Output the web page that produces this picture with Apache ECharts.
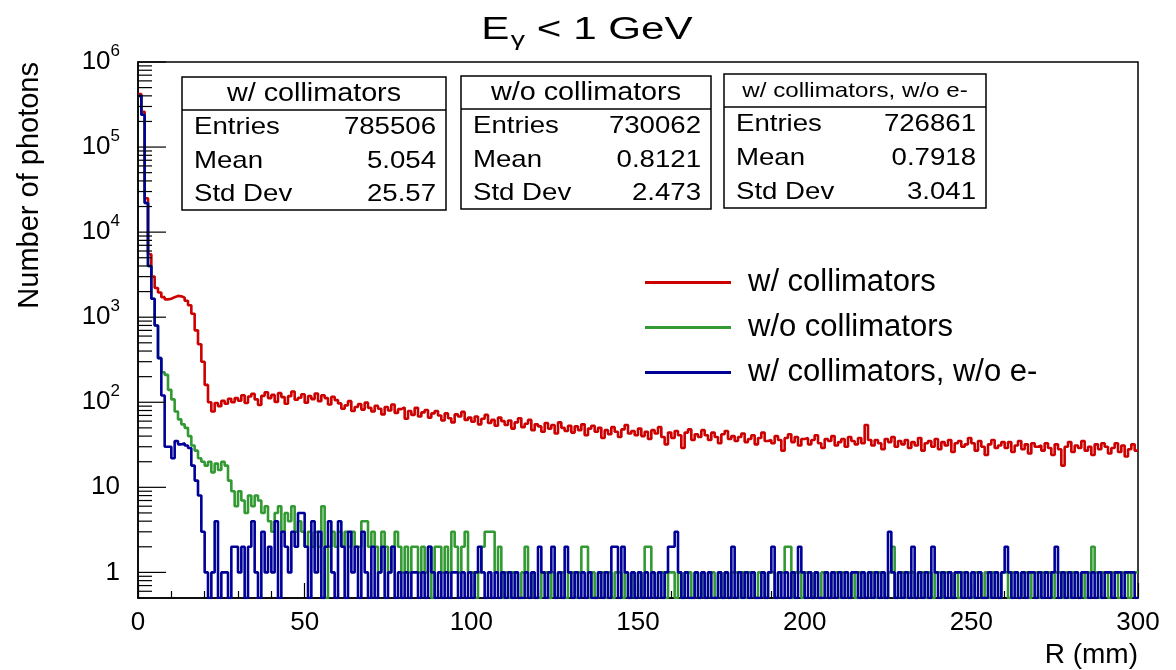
<!DOCTYPE html>
<html>
<head>
<meta charset="utf-8">
<script src="https://cdn.jsdelivr.net/npm/echarts@6.0.0/dist/echarts.min.js"></script>
<style>html,body{margin:0;padding:0;background:#fff}#chart{width:1176px;height:670px}</style>
</head>
<body>
<div id="chart"></div>
<script>
// ---------------- data (1 mm bins, R from 0 to 300 mm; one row = 10 mm) ----------------
const binWidth = 1;
const xRange = [0, 300];
const yRange = [0.5, 1e6];

const seriesNames = ['w/ collimators', 'w/o collimators', 'w/ collimators, w/o e-'];

const withCollimators = [
420000,260000,25000,5500,3000,2200,1950,1720,1620,1650,
1720,1780,1760,1700,1560,1380,1100,700,480,300,
160,100,78,98,90,104,96,110,100,112,
104,121,98,117,126,108,93,119,131,112,
122,101,128,115,96,118,134,107,113,124,
99,118,109,127,103,121,112,94,116,106,
97,84,92,103,79,88,95,82,99,86,
78,91,84,72,88,80,94,75,83,87,
64,79,71,86,68,76,81,66,74,79,
70,61,74,65,58,72,68,77,62,66,
59,68,55,64,71,57,62,53,66,60,
54,61,49,58,65,51,56,62,47,55,
52,45,57,49,54,43,58,50,46,53,
44,52,47,55,41,49,53,45,50,38,
47,42,51,45,39,48,54,43,46,41,
49,40,45,37,47,43,51,39,32,44,
38,46,41,29,44,48,36,42,39,47,
41,36,44,39,33,42,46,37,40,35,
39,43,34,37,41,32,38,44,35,36,
33,40,36,27,38,42,34,39,31,37,
38,32,36,41,33,29,37,35,40,31,
34,37,30,39,35,32,38,33,54,36,
31,36,33,28,37,34,39,30,35,32,
36,29,34,31,38,27,33,35,30,37,
28,34,31,36,26,33,35,30,32,38,
33,27,35,30,24,32,36,29,31,34,
29,34,26,31,35,28,32,25,33,30,
31,27,33,29,24,32,28,18,30,34,
26,31,29,35,27,30,24,32,28,33,
30,25,29,33,26,31,23,28,32,27];

const withoutCollimators = [
400000,240000,22000,4000,1650,800,330,225,210,140,
108,78,63,55,50,40,31,27,22,20,
18,20,15,19,16,20,18,12,9,6,
9,7,5,8,6,8,7,5,6,4,
3,5,6,3,5,4,6,3,4,3,
2,3,2,3,2,6,0,2,3,2,
3,2,3,2,3,2,2,4,4,2,
3,2,1,3,2,1,2,3,2,1,
2,1,2,2,1,2,1,2,0,2,
2,1,2,1,3,2,1,2,3,1,
1,0,1,2,3,3,3,1,2,0,
1,0,1,1,0,1,2,0,1,0,
0,1,1,0,1,0,1,1,0,1,
1,0,1,2,2,0,1,0,1,1,
0,1,0,1,1,0,1,0,1,0,
1,0,2,2,1,0,1,1,0,1,
1,0,1,0,1,1,0,1,0,1,
0,1,1,0,1,0,1,0,1,1,
0,1,0,1,1,0,1,1,0,1,
1,0,1,1,2,2,0,1,1,0,
1,1,0,1,0,1,1,0,1,1,
0,1,1,0,1,0,1,1,0,1,
1,0,1,1,0,1,2,0,1,1,
0,1,1,0,1,1,0,1,0,1,
1,0,1,1,0,1,0,1,1,0,
0,1,1,0,1,0,1,1,0,1,
1,0,1,1,0,1,1,0,1,1,
0,1,1,1,0,1,1,0,1,0,
1,1,0,1,0,1,2,1,0,1,
1,0,1,1,0,1,1,0,1,1];

const withCollimatorsNoElectrons = [
400000,240000,22000,4000,1650,800,330,120,30,30,
22,35,32,33,31,29,18,12,8,3,
1,0,1,4,0,1,1,0,2,2,
1,2,0,2,4,1,0,3,1,2,
1,4,0,3,2,1,3,2,5,5,
2,0,4,1,3,0,2,4,1,0,
4,2,0,3,1,2,0,3,1,0,
2,0,1,2,0,1,2,0,1,0,
1,0,1,1,0,1,0,2,1,0,
1,0,1,0,1,1,0,1,0,1,
0,1,2,1,0,1,0,1,0,1,
0,1,0,1,0,0,1,0,1,0,
2,1,0,1,2,0,1,0,2,1,
0,1,0,1,0,1,0,0,1,0,
1,0,2,2,0,2,1,0,1,0,
1,0,1,0,1,0,1,0,1,2,
2,3,1,0,1,0,0,1,0,1,
0,1,0,0,1,0,1,0,2,0,
1,0,1,0,1,0,0,1,0,1,
2,0,1,0,1,0,1,0,2,1,
0,1,0,1,0,0,1,0,1,0,
1,0,1,0,1,1,0,1,0,1,
0,1,0,1,0,3,1,0,1,0,
1,0,2,0,1,0,1,0,2,1,
0,1,0,1,0,1,1,0,1,0,
1,0,1,0,0,1,0,1,0,1,
2,1,0,1,0,1,0,1,1,0,
1,0,1,0,1,2,0,1,0,1,
0,1,0,1,1,0,1,0,1,0,
1,1,0,1,1,0,1,1,1,0];

const seriesColors = ['#cc0000', '#339933', '#000099'];

// stat box contents
const statEntries = ['785506', '730062', '726861'];
const statMean = ['5.054', '0.8121', '0.7918'];
const statStdDev = ['25.57', '2.473', '3.041'];
const statLabels = ['Entries', 'Mean', 'Std Dev'];

// axis ticks
const xTickInterval = 50;
const yMajorTicks = [1, 10, 100, 1000, 10000, 100000, 1000000];
const yMinorMultipliers = [2, 3, 4, 5, 6, 7, 8, 9];

const titleText = '{e|E}{g|γ}{e| < 1 GeV}';
const xTitle = 'R (mm)';
const yTitle = 'Number of photons';

// ---------------- build ----------------
const FONT = '"Liberation Sans", Arial, Helvetica, sans-serif';

function histSteps(counts) {
  const pts = counts.map((c, i) => [xRange[0] + i * binWidth, c > 0 ? c : yRange[0]]);
  pts.push([xRange[0] + counts.length * binWidth, pts[pts.length - 1][1]]);
  return pts;
}

const yTickData = [];
yMajorTicks.forEach(v => yTickData.push([xRange[0], v, 1]));
for (let k = -1; k <= 5; k++) {
  yMinorMultipliers.forEach(m => {
    const v = m * Math.pow(10, k);
    if (v > yRange[0] && v < yRange[1]) yTickData.push([xRange[0], v, 0]);
  });
}

const allCounts = [withCollimators, withoutCollimators, withCollimatorsNoElectrons];

const series = allCounts.map((counts, i) => ({
  name: seriesNames[i],
  type: 'line',
  step: 'end',
  data: histSteps(counts),
  showSymbol: false,
  symbol: 'none',
  clip: true,
  silent: true,
  sampling: null,
  lineStyle: { color: seriesColors[i], width: 2.6 },
  itemStyle: { color: seriesColors[i] },
  z: 2 + i
}));

series.push({
  type: 'custom',
  coordinateSystem: 'cartesian2d',
  silent: true,
  clip: false,
  z: 10,
  data: yTickData,
  renderItem: function (params, api) {
    const p = api.coord([api.value(0), api.value(1)]);
    const len = api.value(2) ? 28 : 14;
    return {
      type: 'line',
      shape: { x1: p[0], y1: p[1], x2: p[0] + len, y2: p[1] },
      style: { stroke: '#000', lineWidth: 1.2 }
    };
  }
});

function statBox(x, y, w, h, headH, title, titleSize, idx) {
  const els = [];
  els.push({ type: 'rect', shape: { x: x, y: y, width: w, height: h }, style: { fill: '#fff', stroke: '#000', lineWidth: 1.5 }, z: 100 });
  els.push({ type: 'line', shape: { x1: x, y1: y + headH, x2: x + w, y2: y + headH }, style: { stroke: '#000', lineWidth: 1.5 }, z: 101 });
  els.push({ type: 'text', x: x + w / 2, y: y + headH / 2 + 1, scaleX: 1.15, z: 102,
    style: { text: title, fontSize: titleSize, fontFamily: FONT, fill: '#000', align: 'center', verticalAlign: 'middle', textAlign: 'center', textVerticalAlign: 'middle' } });
  const rowH = (h - headH) / 3;
  const vals = [statEntries[idx], statMean[idx], statStdDev[idx]];
  for (let r = 0; r < 3; r++) {
    const cy = y + headH + rowH * (r + 0.5) + 1;
    els.push({ type: 'text', x: x + 12, y: cy, scaleX: 1.15, z: 102,
      style: { text: statLabels[r], fontSize: 24, fontFamily: FONT, fill: '#000', align: 'left', verticalAlign: 'middle', textAlign: 'left', textVerticalAlign: 'middle' } });
    els.push({ type: 'text', x: x + w - 10, y: cy, scaleX: 1.15, z: 102,
      style: { text: vals[r], fontSize: 24, fontFamily: FONT, fill: '#000', align: 'right', verticalAlign: 'middle', textAlign: 'right', textVerticalAlign: 'middle' } });
  }
  return els;
}

const graphic = [].concat(
  statBox(182, 77, 264, 133, 33, seriesNames[0], 25, 0),
  statBox(461, 76, 250, 133, 33, seriesNames[1], 25, 1),
  statBox(724, 74, 262, 134, 33, seriesNames[2], 21, 2),
  [
    { type: 'text', x: 587, y: 15, scaleX: 1.36, z: 102,
      style: { text: titleText, fontFamily: FONT, fill: '#000', align: 'center', verticalAlign: 'top', textAlign: 'center', textVerticalAlign: 'top',
        rich: {
          e: { fontSize: 31, fontFamily: FONT, fill: '#000', color: '#000', lineHeight: 35, verticalAlign: 'top' },
          g: { fontSize: 21, fontFamily: FONT, fill: '#000', color: '#000', lineHeight: 21, verticalAlign: 'top', padding: [15, 0, 0, 1] }
        } } },
    { type: 'text', x: 1138, y: 655, z: 102,
      style: { text: xTitle, fontSize: 28, fontFamily: FONT, fill: '#000', align: 'right', verticalAlign: 'middle', textAlign: 'right', textVerticalAlign: 'middle' } },
    { type: 'text', x: 30, y: 62, rotation: Math.PI / 2, z: 102,
      style: { text: yTitle, fontSize: 29, fontFamily: FONT, fill: '#000', align: 'right', verticalAlign: 'middle', textAlign: 'right', textVerticalAlign: 'middle' } }
  ]
);

const chart = echarts.init(document.getElementById('chart'), null, { renderer: 'canvas' });
chart.setOption({
  animation: false,
  backgroundColor: '#fff',
  grid: { left: 138, right: 38, top: 62, bottom: 72, show: true, borderColor: '#000', borderWidth: 1.5, backgroundColor: 'transparent', containLabel: false },
  legend: {
    data: seriesNames,
    orient: 'vertical',
    left: 645,
    top: 267,
    padding: 0,
    icon: 'rect',
    itemWidth: 86,
    itemHeight: 3,
    itemGap: 14,
    selectedMode: false,
    textStyle: { fontSize: 31, fontFamily: FONT, color: '#000', lineHeight: 30, padding: [0, 0, 0, 12] }
  },
  xAxis: {
    type: 'value',
    min: xRange[0],
    max: xRange[1],
    interval: xTickInterval,
    axisLine: { show: true, onZero: false, lineStyle: { color: '#000', width: 1.5 } },
    axisTick: { show: true, inside: true, length: 15, lineStyle: { color: '#000', width: 1.2 } },
    minorTick: { show: true, splitNumber: 5, length: 7, lineStyle: { color: '#000', width: 1.2 } },
    splitLine: { show: false },
    minorSplitLine: { show: false },
    axisLabel: { fontSize: 26, fontFamily: FONT, color: '#000', margin: 12 }
  },
  yAxis: {
    type: 'log',
    logBase: 10,
    min: yRange[0],
    max: yRange[1],
    axisLine: { show: true, lineStyle: { color: '#000', width: 1.5 } },
    axisTick: { show: false },
    minorTick: { show: false },
    splitLine: { show: false },
    axisLabel: {
      margin: 18,
      showMinLabel: false,
      color: '#000',
      fontFamily: FONT,
      fontSize: 26,
      formatter: function (v) {
        if (v < 0.99) return '';
        const e = Math.round(Math.log10(v));
        if (e === 0) return '{b|1}';
        if (e === 1) return '{b|10}';
        return '{b|10}{s|' + e + '}';
      },
      rich: {
        b: { fontSize: 26, fontFamily: FONT, color: '#000', lineHeight: 26, verticalAlign: 'bottom' },
        s: { fontSize: 17, fontFamily: FONT, color: '#000', lineHeight: 17, verticalAlign: 'bottom', padding: [9, 0, 15, 0] }
      }
    }
  },
  series: series,
  graphic: graphic
});
</script>
</body>
</html>
